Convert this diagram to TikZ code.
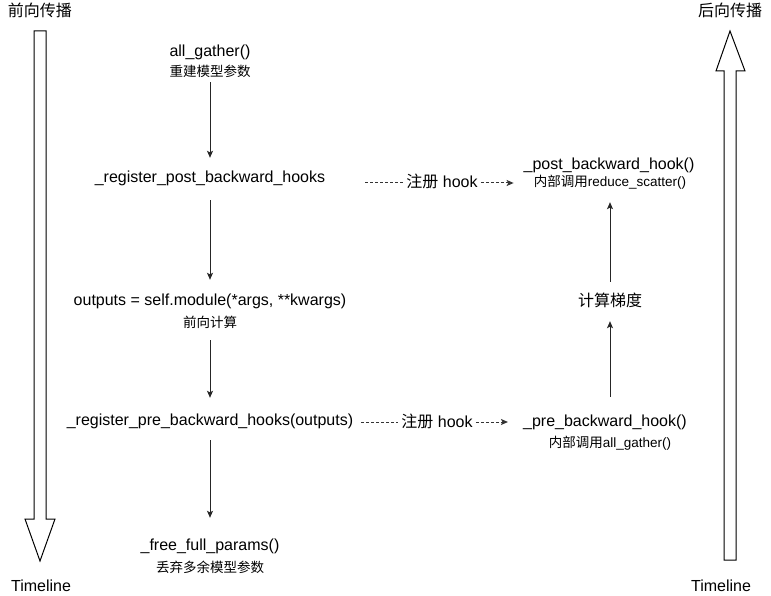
\documentclass[tikz,border=0pt]{standalone}
\usepackage{fontspec}
\setmainfont{Liberation Sans}
\newfontfamily\cjk{Noto Sans CJK SC}
\usetikzlibrary{arrows.meta}
\begin{document}
\begin{tikzpicture}[x=1pt,y=-1pt,
  mainlbl/.style={inner sep=0pt, anchor=base, text height=12pt, text depth=4pt, font=\fontsize{16}{19}\selectfont},
  sublbl/.style={inner sep=0pt, anchor=base, text height=11pt, text depth=3pt, font=\fontsize{13.5}{16}\selectfont},
  hooklbl/.style={inner ysep=0pt, inner xsep=3pt, anchor=base, text height=13pt, text depth=3pt, font=\fontsize{16}{19}\selectfont},
  flow/.style={line width=1pt, draw=black!85, -{Stealth[length=7pt,width=6pt,inset=1.5pt]}},
  dashflow/.style={line width=1pt, draw=black!80, dash pattern=on 3pt off 2pt},
  bigarrow/.style={draw=black, line width=1pt, fill=white, line join=miter}
]
\useasboundingbox (0,0) rectangle (771,596);

% big timeline arrows
\draw[bigarrow] (34,31) -- (46,31) -- (46,519) -- (55,519) -- (40,561) -- (25,519) -- (34,519) -- cycle;
\draw[bigarrow] (724,560) -- (736,560) -- (736,71) -- (745,71) -- (730,31) -- (716,71) -- (724,71) -- cycle;

\node[mainlbl] (tl) at (40,17) {\cjk 前向传播};
\node[mainlbl] (tr) at (730,17) {\cjk 后向传播};
\node[mainlbl] (bl) at (41,591) {Timeline};
\node[mainlbl] (br) at (721,591) {Timeline};

% left column
\node[mainlbl] (ag) at (210,57) {all\_gather()};
\node[sublbl] (agsub) at (210,77) {\cjk 重建模型参数};
\node[mainlbl] (rpost) at (210,183) {\_register\_post\_backward\_hooks};
\node[mainlbl] (out) at (210,305) {outputs = self.module(*args, **kwargs)};
\node[sublbl] (outsub) at (210,327) {\cjk 前向计算};
\node[mainlbl] (rpre) at (210,425) {\_register\_pre\_backward\_hooks(outputs)};
\node[mainlbl] (free) at (210,550) {\_free\_full\_params()};
\node[sublbl] (freesub) at (210,572) {\cjk 丢弃多余模型参数};

% right column
\node[mainlbl] (post) at (609,170) {\_post\_backward\_hook()};
\node[sublbl] (postsub) at (610,187) {{\cjk 内部调用}reduce\_scatter()};
\node[mainlbl] (grad) at (610,306) {\cjk 计算梯度};
\node[mainlbl] (pre) at (605,426) {\_pre\_backward\_hook()};
\node[sublbl] (presub) at (610,447) {{\cjk 内部调用}all\_gather()};

% hook labels
\node[hooklbl] (h1) at (442,188) {{\cjk 注册} hook};
\node[hooklbl] (h2) at (437,427) {{\cjk 注册} hook};

% vertical flow
\draw[flow, shorten <=2pt, shorten >=13pt] (agsub.south) -- (rpost.north);
\draw[flow, shorten <=13pt, shorten >=13pt] (rpost.south) -- (out.north);
\draw[flow, shorten <=10pt, shorten >=15pt] (outsub.south) -- (rpre.north);
\draw[flow, shorten <=11pt, shorten >=20pt] (rpre.south) -- (free.north);
\draw[flow, shorten <=17pt, shorten >=11pt] (grad |- pre.north) -- (grad.south);
\draw[flow, shorten <=12pt, shorten >=12pt] (grad.north) -- (postsub.south);

% dashed register arrows
\draw[dashflow, shorten <=40pt] (h1.west -| rpost.east) -- (h1.west);
\draw[dashflow, -{Stealth[length=7pt,width=6pt,inset=1.5pt]}, shorten >=20pt] (h1.east) -- (h1.east -| postsub.west);
\draw[dashflow, shorten <=8pt] (h2.west -| rpre.east) -- (h2.west);
\draw[dashflow, -{Stealth[length=7pt,width=6pt,inset=1.5pt]}, shorten >=15pt] (h2.east) -- (h2.east -| pre.west);
\end{tikzpicture}
\end{document}
